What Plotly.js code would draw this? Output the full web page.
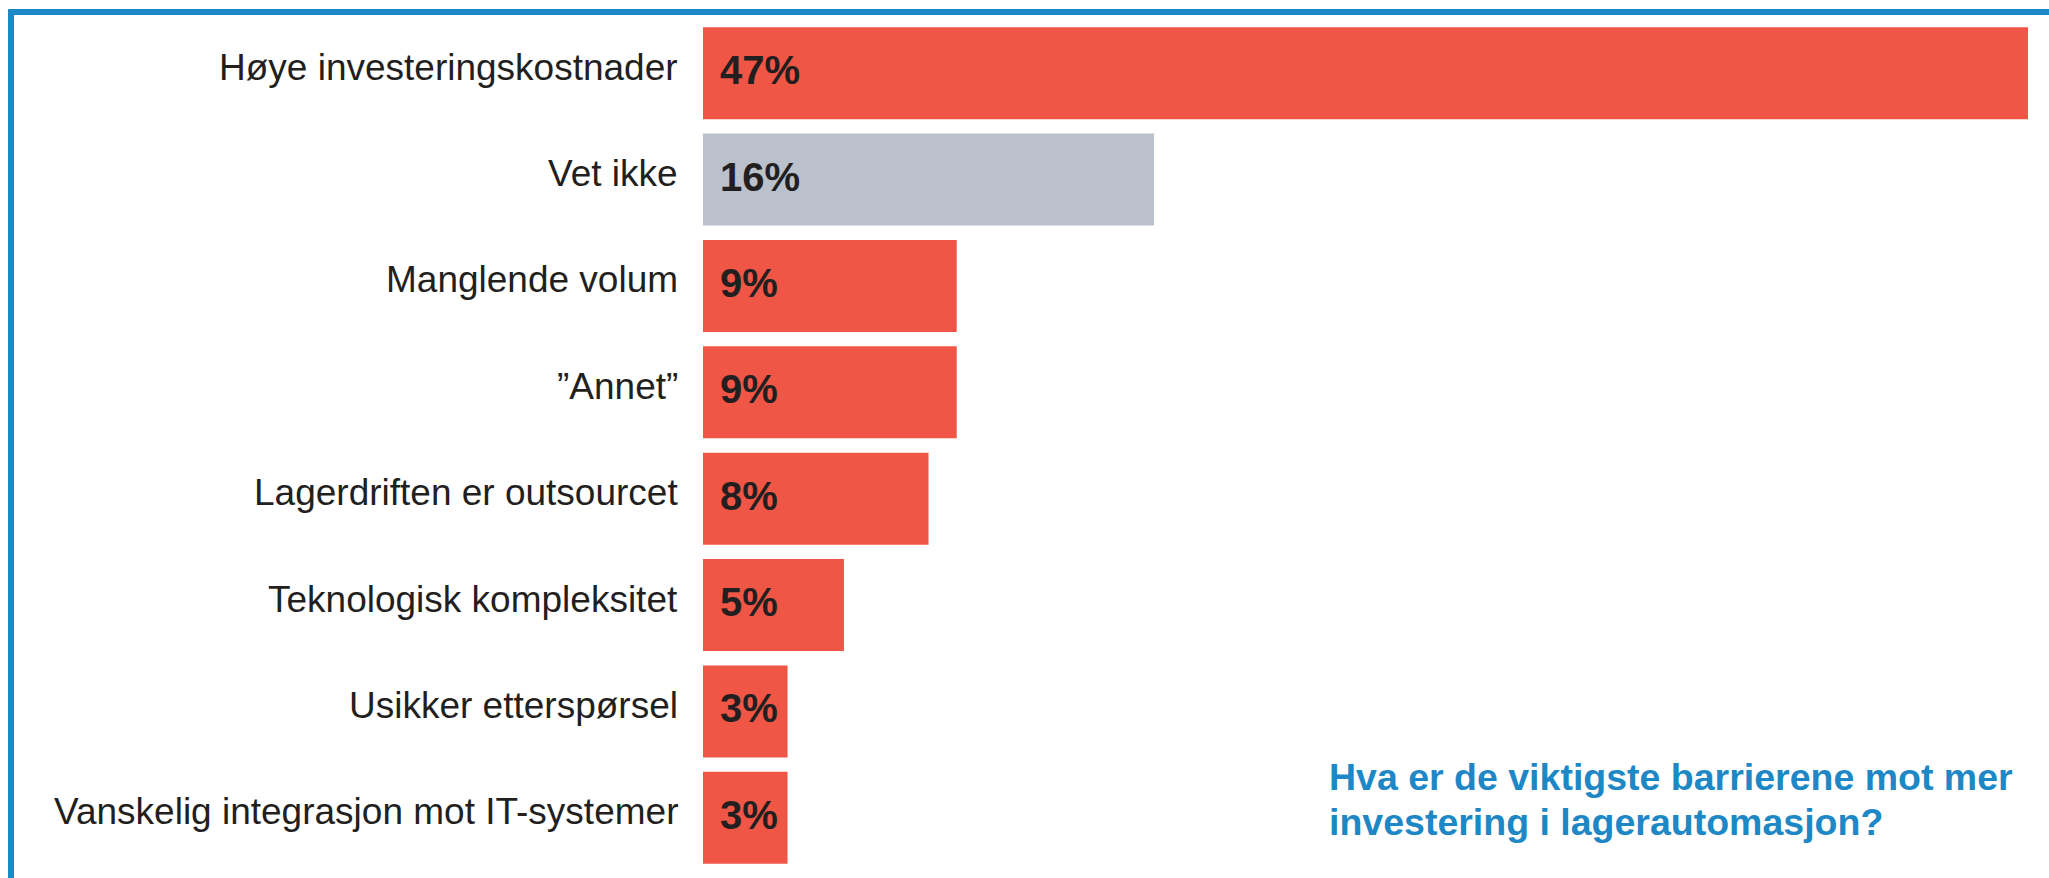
<!DOCTYPE html>
<html>
<head>
<meta charset="utf-8">
<script src="https://cdn.plot.ly/plotly-3.0.1.min.js"></script>
<style>
  html, body { margin: 0; padding: 0; background: #ffffff; }
  #chart { width: 2049px; height: 878px; }
</style>
</head>
<body>
<div id="chart"></div>
<script>
// Survey answers: main barriers to more investment in warehouse automation
const categories = [
  'Høye investeringskostnader',
  'Vet ikke',
  'Manglende volum',
  '”Annet”',
  'Lagerdriften er outsourcet',
  'Teknologisk kompleksitet',
  'Usikker etterspørsel',
  'Vanskelig integrasjon mot IT-systemer'
];
const shares = [47, 16, 9, 9, 8, 5, 3, 3];
const neutralAnswer = 'Vet ikke';
const questionLines = [
  'Hva er de viktigste barrierene mot mer',
  'investering i lagerautomasjon?'
];

const RED = '#f05645';
const GREY = '#bbc1cc';
const BLUE = '#1e87c5';
const INK = '#231f20';
const FONT = 'Liberation Sans, Arial, sans-serif';

const W = 2049, H = 878;
const M = { l: 703, r: 21, t: 20, b: 7 };
const plotW = W - M.l - M.r, plotH = H - M.t - M.b;
// pixel -> paper helpers for decorations outside the plot area
const px = v => (v - M.l) / plotW;
const py = v => (H - M.b - v) / plotH;

const barColors = categories.map(c => c === neutralAnswer ? GREY : RED);

const trace = {
  type: 'bar',
  orientation: 'h',
  x: shares,
  y: categories,
  marker: { color: barColors, line: { width: 0 } },
  hoverinfo: 'none'
};

// answer texts, right-aligned against the bars
const categoryLabels = categories.map(c => ({
  xref: 'paper', yref: 'y',
  x: 0, y: c,
  xanchor: 'right', yanchor: 'middle',
  xshift: -23, yshift: 6,
  text: c,
  showarrow: false,
  font: { family: FONT, size: 37, color: INK }
}));

// percentage printed at the start of each bar
const valueLabels = categories.map((c, i) => ({
  xref: 'x', yref: 'y',
  x: 0, y: c,
  xanchor: 'left', yanchor: 'middle',
  xshift: 15, yshift: 3,
  text: shares[i] + '%',
  showarrow: false,
  font: { family: FONT, size: 40, color: INK, weight: 700 }
}));

const questionCentres = [777, 822];
const question = questionLines.map((t, i) => ({
  xref: 'paper', yref: 'paper',
  x: px(1327), y: py(questionCentres[i]),
  xanchor: 'left', yanchor: 'middle',
  text: t,
  showarrow: false,
  align: 'left',
  font: { family: FONT, size: 37.5, color: BLUE, weight: 700 }
}));

const layout = {
  width: W, height: H,
  margin: M,
  paper_bgcolor: '#ffffff',
  plot_bgcolor: '#ffffff',
  showlegend: false,
  bargap: 0.135,
  font: { family: FONT, color: INK },
  xaxis: {
    range: [0, 47],
    visible: false,
    fixedrange: true
  },
  yaxis: {
    type: 'category',
    autorange: 'reversed',
    showgrid: false,
    zeroline: false,
    showline: false,
    ticks: '',
    showticklabels: false,
    fixedrange: true
  },
  annotations: categoryLabels.concat(valueLabels, question),
  shapes: [
    { type: 'line', xref: 'paper', yref: 'paper',
      x0: px(8), x1: px(W + 10), y0: py(12), y1: py(12),
      line: { color: BLUE, width: 6 } },
    { type: 'line', xref: 'paper', yref: 'paper',
      x0: px(11), x1: px(11), y0: py(9), y1: py(H + 10),
      line: { color: BLUE, width: 6 } }
  ]
};

Plotly.newPlot('chart', [trace], layout, { displayModeBar: false, staticPlot: true });
</script>
</body>
</html>
